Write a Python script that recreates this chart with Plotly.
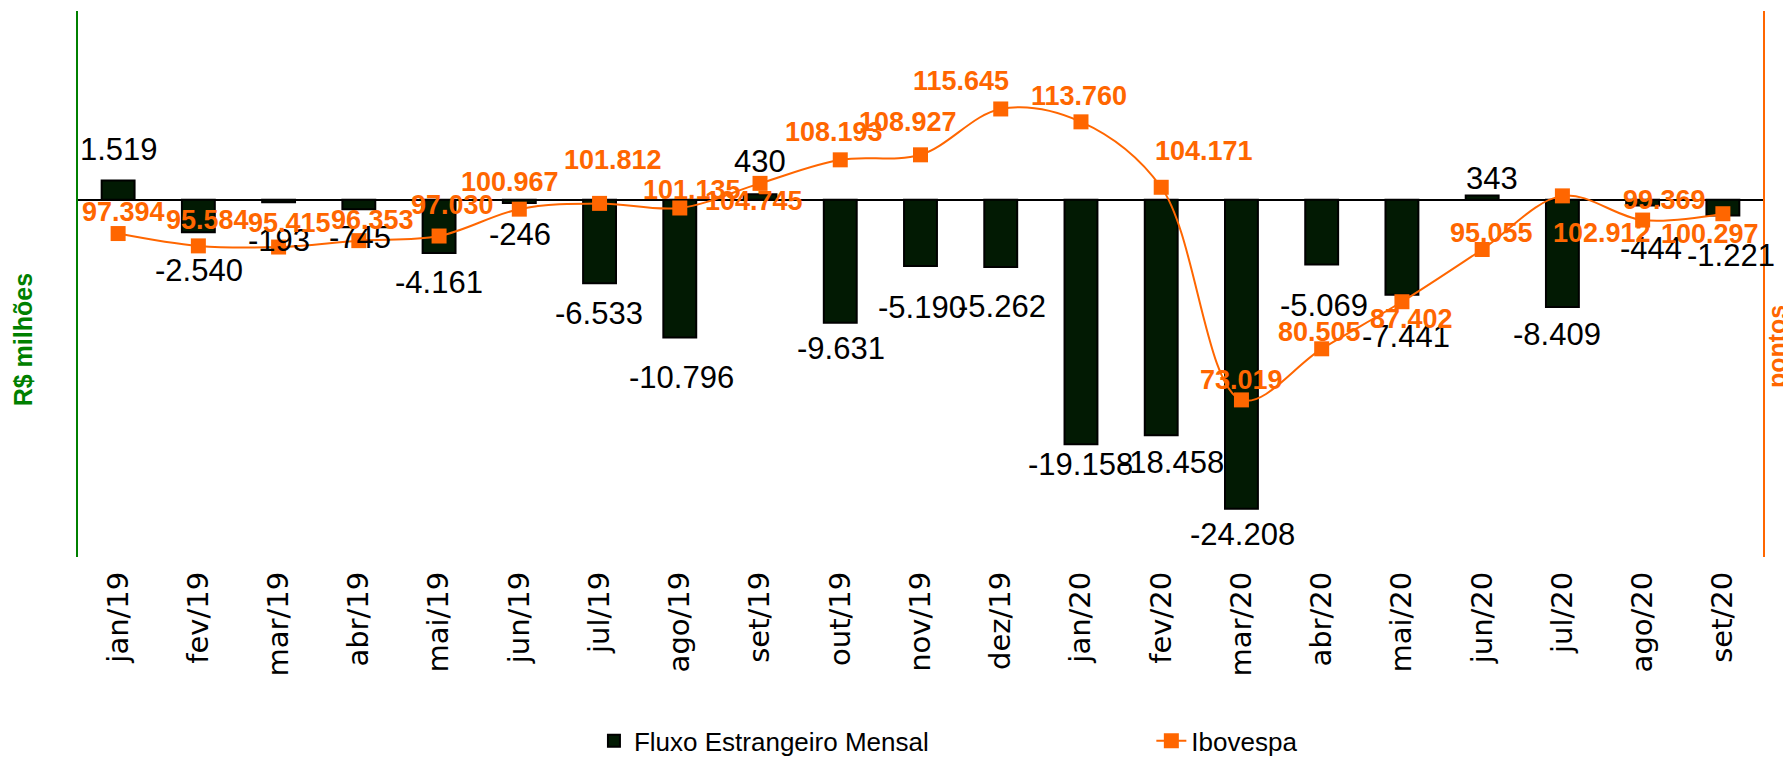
import plotly.graph_objects as go

months = ["jan/19", "fev/19", "mar/19", "abr/19", "mai/19", "jun/19", "jul/19",
          "ago/19", "set/19", "out/19", "nov/19", "dez/19", "jan/20", "fev/20",
          "mar/20", "abr/20", "mai/20", "jun/20", "jul/20", "ago/20", "set/20"]
fluxo = [1519, -2540, -193, -745, -4161, -246, -6533, -10796, 430, -9631, -5190,
         -5262, -19158, -18458, -24208, -5069, -7441, 343, -8409, -444, -1221]
ibovespa = [97394, 95584, 95415, 96353, 97030, 100967, 101812, 101135, 104745,
            108193, 108927, 115645, 113760, 104171, 73019, 80505, 87402, 95055,
            102912, 99369, 100297]

# label nudges (px) relative to the bar end / line point
bar_dx = [1, 1, 0, 1, 0, 1, -1, 2, 0, 1, 1, 1, 0, 10, 1, 2, 4, 10, -5, 8, 8]
bar_dy = [31, -38, -38, -28, -30, -32, -30, -40, 33, -26, -41, -40, -20, -27, -26,
          -41, -42, 17, -27, -43, -40]
ibov_dx = [5, 9, 11, 14, 13, -9, 13, 12, -6, -6, -13, -40, -2, 43, 0, -2, 10, 9, 40, 22, -13]
ibov_dy = [22, 26, 24, 21, 31, 27, 43, 18, -18, 28, 33, 28, 26, 36, 20, 17, -17, 17, -37, 20, -20]


def fmt(v):
    return f"{v:,}".replace(",", ".")


BAR_COLOR = "#021a03"
ORANGE = "#ff6600"
GREEN = "#008000"

fig = go.Figure()
fig.add_trace(go.Bar(
    x=months, y=fluxo, name="Fluxo Estrangeiro Mensal",
    marker=dict(color=BAR_COLOR, line=dict(color="#000000", width=2)),
    yaxis="y", legend="legend",
))
fig.add_trace(go.Scatter(
    x=months, y=ibovespa, name="Ibovespa", mode="lines+markers",
    line=dict(color=ORANGE, width=2, shape="spline", smoothing=1.0),
    marker=dict(symbol="square", size=15, color=ORANGE),
    yaxis="y2", legend="legend2",
))

annotations = []
for i, m in enumerate(months):
    annotations.append(dict(
        x=m, y=fluxo[i], xref="x", yref="y", text=fmt(fluxo[i]),
        showarrow=False, xanchor="center", yanchor="middle",
        xshift=bar_dx[i], yshift=bar_dy[i],
        font=dict(family="Liberation Sans, Arial, sans-serif", size=31, color="#000000"),
    ))
for i, m in enumerate(months):
    annotations.append(dict(
        x=m, y=ibovespa[i], xref="x", yref="y2", text=fmt(ibovespa[i]),
        showarrow=False, xanchor="center", yanchor="middle",
        xshift=ibov_dx[i], yshift=ibov_dy[i],
        font=dict(family="Liberation Sans, Arial, sans-serif", size=27, color=ORANGE, weight="bold"),
    ))

annotations.append(dict(
    x=-0.0326, y=0.397, xref="paper", yref="paper", text="<b>R$ milhões</b>",
    textangle=-90, showarrow=False, xanchor="center", yanchor="middle",
    font=dict(family="Liberation Sans, Arial, sans-serif", size=25, color=GREEN),
))
annotations.append(dict(
    x=1.0082, y=0.386, xref="paper", yref="paper", text="<b>pontos</b>",
    textangle=-90, showarrow=False, xanchor="center", yanchor="middle",
    font=dict(family="Liberation Sans, Arial, sans-serif", size=25, color=ORANGE),
))

fig.update_layout(
    width=1783, height=749,
    margin=dict(l=70, r=28, t=3, b=200),
    paper_bgcolor="white", plot_bgcolor="white",
    bargap=0.59,
    showlegend=True,
    xaxis=dict(
        type="category", range=[-0.5, 20.5], showgrid=False, showline=False, zeroline=False,
        tickangle=-90, ticks="", ticklabelstandoff=8,
        tickfont=dict(family="DejaVu Sans, Verdana, sans-serif", size=29, color="#000000"),
    ),
    yaxis=dict(
        range=[-28000, 14800], showgrid=False, showticklabels=False, ticks="",
        showline=True, linecolor=GREEN, linewidth=2,
        zeroline=True, zerolinecolor="#000000", zerolinewidth=1.5,
    ),
    yaxis2=dict(
        range=[50000, 130000], overlaying="y", side="right",
        showgrid=False, showticklabels=False, ticks="", zeroline=False,
        showline=True, linecolor=ORANGE, linewidth=2,
    ),
    legend=dict(
        xref="paper", yref="container",
        x=0.3062, y=0.0214, xanchor="left", yanchor="middle",
        orientation="h", bgcolor="rgba(0,0,0,0)",
        font=dict(family="Liberation Sans, Arial, sans-serif", size=26, color="#000000"),
    ),
    legend2=dict(
        xref="paper", yref="container",
        x=0.637, y=0.0214, xanchor="left", yanchor="middle",
        orientation="h", bgcolor="rgba(0,0,0,0)",
        font=dict(family="Liberation Sans, Arial, sans-serif", size=26, color="#000000"),
    ),
    annotations=annotations,
)

fig.write_html("out.html")
